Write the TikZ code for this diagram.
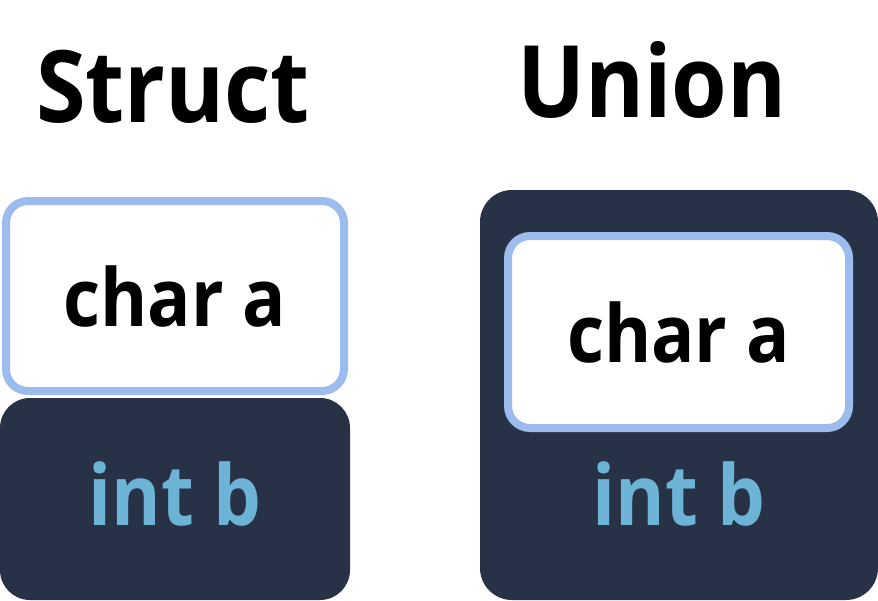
\documentclass[tikz,border=0pt]{standalone}
\usepackage{fontspec}
\setmainfont[FakeStretch=0.9]{Open Sans}
\usetikzlibrary{positioning}
\definecolor{slate}{HTML}{283247}
\definecolor{paleblue}{HTML}{9BBCED}
\definecolor{skyblue}{HTML}{6DB3D5}

\begin{document}
\begin{tikzpicture}[x=1pt,y=-1pt]
\tikzstyle{every node}+=[inner sep=0pt,outer sep=0pt]
\tikzstyle{title}=[font=\fontsize{100}{100}\selectfont\bfseries,anchor=base]
\tikzstyle{member}=[font=\fontsize{80}{80}\selectfont\bfseries]
\tikzstyle{charbox}=[member,draw=paleblue,line width=8pt,fill=white,rounded corners=22pt,minimum width=338pt,minimum height=190pt]
\tikzstyle{intbox}=[font=\fontsize{84}{84}\selectfont\bfseries,fill=slate,text=skyblue,rounded corners=30pt]
\useasboundingbox (0,0) rectangle (878,600);
% struct
\node [title] (structtitle) at (173,122) {Struct};
\node [charbox] (structchar) at (175,296) {char a};
\node [intbox,minimum width=350pt,minimum height=202pt] (structint) at (175,499) {};
\node [intbox,fill=none,anchor=base] (structintlabel) at (175,525) {int b};
% union
\node [title] (uniontitle) at (652,117) {Union};
\node [intbox,minimum width=398pt,minimum height=410pt,rounded corners=32pt] (unionbox) at (679,395) {};
\node [charbox,minimum width=341pt,minimum height=192pt] (unionchar) at (678.5,332) {char a};
\node [intbox,fill=none,anchor=base] (unionint) at (679,525) {int b};
\end{tikzpicture}
\end{document}
